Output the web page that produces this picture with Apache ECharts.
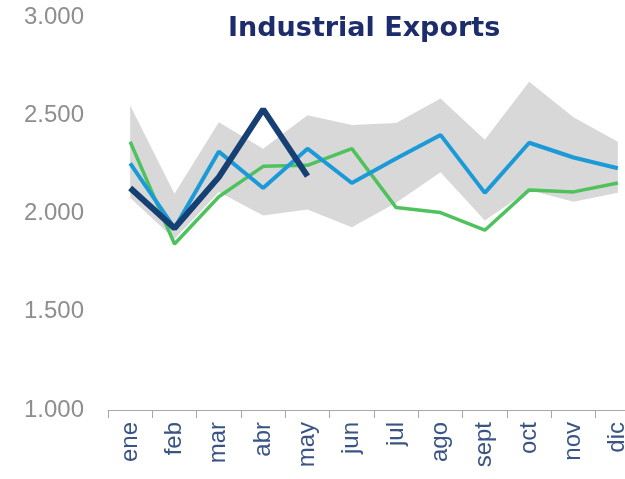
<!DOCTYPE html>
<html>
<head>
<meta charset="utf-8">
<script src="https://cdn.jsdelivr.net/npm/echarts@6/dist/echarts.min.js"></script>
<style>
  html, body { margin: 0; padding: 0; background: #ffffff; }
  #chart { width: 625px; height: 479px; }
</style>
</head>
<body>
<div id="chart"></div>
<script>
// Monthly industrial exports
const months = ['ene', 'feb', 'mar', 'abr', 'may', 'jun', 'jul', 'ago', 'sept', 'oct', 'nov', 'dic'];

// Current year (January to May so far)
const currentYear = [2130, 1925, 2185, 2530, 2190, null, null, null, null, null, null, null];
// Previous year
const previousYear = [2255, 1925, 2315, 2130, 2330, 2155, 2280, 2400, 2105, 2360, 2285, 2230];
// Two years back
const twoYearsBack = [2365, 1845, 2085, 2240, 2245, 2330, 2030, 2005, 1915, 2120, 2110, 2155];

// Historical range (shaded band)
const rangeLow  = [2080, 1870, 2110, 1990, 2020, 1930, 2055, 2210, 1965, 2120, 2060, 2105];
const rangeHigh = [2550, 2100, 2465, 2330, 2500, 2450, 2460, 2585, 2375, 2670, 2490, 2365];

// Value axis ticks
const yMin = 1000, yMax = 3000, yStep = 500;

const rangeSpan = rangeHigh.map((h, i) => h - rangeLow[i]);

function thousands(v) {
  return String(v).replace(/\B(?=(\d{3})+(?!\d))/g, '.');
}

const chart = echarts.init(document.getElementById('chart'), null, { renderer: 'canvas' });

chart.setOption({
  animation: false,
  backgroundColor: '#ffffff',
  title: {
    text: 'Industrial Exports',
    left: 223,
    top: 10,
    textStyle: {
      fontFamily: 'DejaVu Sans',
      fontWeight: 'bold',
      fontSize: 27,
      color: '#1d2d6b'
    }
  },
  grid: {
    left: 108,
    right: -15,
    top: 17,
    bottom: 69,
    containLabel: false,
    outerBoundsMode: 'none'
  },
  xAxis: {
    type: 'category',
    data: months,
    boundaryGap: true,
    axisLine: { show: true, lineStyle: { color: '#a8a8a8', width: 1 } },
    axisTick: { show: true, length: 8, alignWithLabel: false, lineStyle: { color: '#a8a8a8' } },
    axisLabel: {
      rotate: 90,
      margin: 12,
      interval: 0,
      fontFamily: 'Liberation Sans',
      fontSize: 24,
      color: '#3a5585'
    },
    splitLine: { show: false }
  },
  yAxis: {
    type: 'value',
    min: yMin,
    max: yMax,
    interval: yStep,
    axisLine: { show: false },
    axisTick: { show: false },
    splitLine: { show: false },
    axisLabel: {
      margin: 24,
      fontFamily: 'Liberation Sans',
      fontSize: 24,
      color: '#8e8e8e',
      formatter: thousands
    }
  },
  series: [
    {
      name: 'rangeBase',
      type: 'line',
      data: rangeLow,
      stack: 'range',
      symbol: 'none',
      lineStyle: { opacity: 0 },
      silent: true,
      z: 1
    },
    {
      name: 'range',
      type: 'line',
      data: rangeSpan,
      stack: 'range',
      symbol: 'none',
      lineStyle: { opacity: 0 },
      areaStyle: { color: '#d8d8d8', opacity: 1 },
      silent: true,
      z: 1
    },
    {
      name: 'twoYearsBack',
      type: 'line',
      data: twoYearsBack,
      symbol: 'none',
      lineStyle: { color: '#4fc25e', width: 3.5 },
      z: 3
    },
    {
      name: 'previousYear',
      type: 'line',
      data: previousYear,
      symbol: 'none',
      lineStyle: { color: '#1c9ad8', width: 4 },
      z: 4
    },
    {
      name: 'currentYear',
      type: 'line',
      data: currentYear,
      symbol: 'none',
      connectNulls: false,
      lineStyle: { color: '#163f73', width: 6 },
      z: 5
    }
  ]
});
</script>
</body>
</html>
